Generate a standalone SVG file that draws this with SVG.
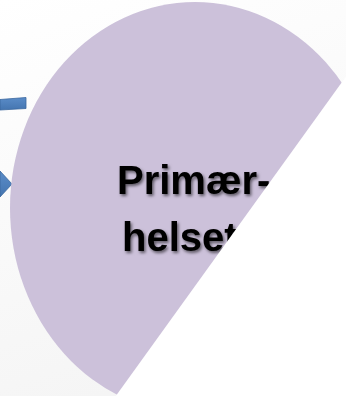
<svg xmlns="http://www.w3.org/2000/svg" width="346" height="396" viewBox="0 0 346 396">
  <defs>
    <linearGradient id="bg" x1="0" y1="0" x2="0.3" y2="1">
      <stop offset="0" stop-color="#ffffff"/>
      <stop offset="1" stop-color="#f5f5f5"/>
    </linearGradient>
    <linearGradient id="blue" x1="0" y1="0" x2="0" y2="1">
      <stop offset="0" stop-color="#5a8cc8"/>
      <stop offset="1" stop-color="#4475b0"/>
    </linearGradient>
    <filter id="shadow" x="-10%" y="-20%" width="130%" height="150%">
      <feDropShadow dx="1.5" dy="2" stdDeviation="1.4" flood-color="#000000" flood-opacity="0.55"/>
    </filter>
    <style>
      .segment { fill: #ccc1da; }
      .label { font-family: "Liberation Sans", Arial, sans-serif; font-weight: bold; font-size: 40px; fill: #000000; }
      .arrow { fill: url(#blue); stroke: #3a679e; stroke-width: 0.8; }
    </style>
  </defs>

  <rect width="346" height="396" fill="url(#bg)"/>

  <!-- incoming arrow pieces -->
  <g id="connectors">
    <polygon class="arrow" points="0,99.5 26,97.5 26,108.5 0,110"/>
    <polygon class="arrow" points="0,171 12,184 0,197"/>
  </g>

  <!-- primary care segment -->
  <g id="primary-care">
    <ellipse class="segment" cx="195" cy="208" rx="185" ry="206"/>
    <g filter="url(#shadow)">
      <text class="label" x="117" y="194">Primær-</text>
      <text class="label" x="122" y="251">helset</text>
    </g>
  </g>

  <!-- neighbouring white panel cutting the segment -->
  <polygon id="panel" points="346,76.4 115.8,396 346,396" fill="#ffffff"/>
</svg>
